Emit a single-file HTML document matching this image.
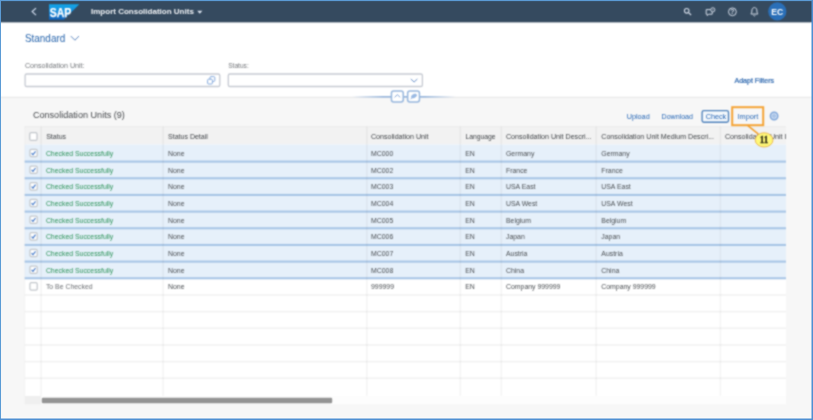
<!DOCTYPE html>
<html lang="en">
<head>
<meta charset="utf-8">
<title>Import Consolidation Units</title>
<style>
html,body{margin:0;padding:0;}
body{width:813px;height:420px;overflow:hidden;background:#f7f7f7;font-family:"Liberation Sans",sans-serif;}
svg{display:block;position:absolute;left:0;top:0;}
text{white-space:pre;}
</style>
</head>
<body>
<svg width="813" height="420" viewBox="0 0 813 420" font-family="Liberation Sans, sans-serif">
<defs><filter id="soft" x="0" y="0" width="100%" height="100%" color-interpolation-filters="sRGB"><feConvolveMatrix order="3" kernelMatrix="1 2 1 2 6 2 1 2 1" divisor="18" edgeMode="duplicate" preserveAlpha="true"/></filter></defs>
<g filter="url(#soft)">
<rect x="0.00" y="0.00" width="813.00" height="420.00" fill="#f7f7f7" />
<rect x="0.00" y="0.00" width="813.00" height="22.60" fill="#354a5f" />
<rect x="0.00" y="22.60" width="813.00" height="74.20" fill="#ffffff" />
<rect x="0.00" y="96.80" width="813.00" height="1.00" fill="#e6e6e6" />
<path d="M36 8.1 L32.2 11.6 L36 15.1" fill="none" stroke="#d0dbed" stroke-width="1.25"/>
<defs><linearGradient id="sg" x1="0" y1="0" x2="0" y2="1"><stop offset="0" stop-color="#10a6ea"/><stop offset="0.45" stop-color="#1a8fdc"/><stop offset="1" stop-color="#1060b8"/></linearGradient></defs>
<polygon points="49,4.3 79.3,4.3 63.8,19.8 49,19.8" fill="url(#sg)"/>
<text x="49.70" y="16.60" font-size="12" fill="#fff" font-weight="bold" stroke="#fff" stroke-width="0.25" textLength="21.6" lengthAdjust="spacingAndGlyphs">SAP</text>
<text x="91.00" y="14.20" font-size="8.03" fill="#f3f5f8" font-weight="bold">Import Consolidation Units</text>
<polygon points="197.2,10.7 202.4,10.7 199.8,13.7" fill="#dbe3ef"/>
<g fill="none" stroke="#d2dae7"><circle cx="686.7" cy="10.8" r="2.3" stroke-width="1.05"/><path d="M688.5 12.6 L691.1 15" stroke-width="1.25"/></g>
<g fill="none" stroke="#d2dae7"><path d="M706.2 9.6 H712.2 V14.2 H708.6 L707.3 15.6 V14.2 H706.2 Z" stroke-width="1"/><circle cx="712.8" cy="9.8" r="2.1" fill="#354a5f" stroke-width="0.9"/><path d="M712.8 8.8 V10 M712.8 10.6 V11" stroke-width="0.7"/></g>
<circle cx="732.4" cy="11.8" r="3.9" fill="none" stroke="#d2dae7" stroke-width="1"/>
<text x="732.40" y="14.30" font-size="6.8" fill="#d2dae7" font-weight="bold" text-anchor="middle">?</text>
<g fill="none" stroke="#d2dae7"><path d="M754.4 7.6 C752.3 7.6 751.9 9.4 751.9 11 C751.9 12.6 751.2 13.4 750.9 14 H757.9 C757.6 13.4 756.9 12.6 756.9 11 C756.9 9.4 756.5 7.6 754.4 7.6 Z" stroke-width="1"/><path d="M753.4 15.4 Q754.4 16.6 755.4 15.4" stroke-width="0.9"/></g>
<circle cx="777.3" cy="11.4" r="9.1" fill="#2a6fb8"/>
<text x="777.30" y="14.50" font-size="8.6" fill="#fff" font-weight="bold" text-anchor="middle">EC</text>
<text x="25.00" y="41.50" font-size="11" fill="#2563ab" textLength="40.2" lengthAdjust="spacingAndGlyphs">Standard</text>
<path d="M70.8 36.1 L74.9 40.2 L79 36.1" fill="none" stroke="#5f88bf" stroke-width="1"/>
<text x="25.00" y="67.60" font-size="7.1" fill="#73767a" >Consolidation Unit:</text>
<text x="228.20" y="67.60" font-size="6.6" fill="#73767a" >Status:</text>
<rect x="25.1" y="74" width="194.7" height="12.5" rx="1.6" fill="#fff" stroke="#c6cad2" stroke-width="1.3"/>
<rect x="228.3" y="74" width="194.1" height="12.5" rx="1.6" fill="#fff" stroke="#c6cad2" stroke-width="1.3"/>
<g fill="#fff" stroke="#7fa5da" stroke-width="0.95"><rect x="210" y="76.6" width="4.8" height="4.8" rx="1"/><rect x="207.6" y="79.2" width="4.8" height="4.8" rx="1"/></g>
<path d="M410.8 79 L414.1 82 L417.4 79" fill="none" stroke="#6f95cc" stroke-width="1"/>
<text x="734.50" y="83.40" font-size="7.05" fill="#2b66ae" stroke="#2b66ae" stroke-width="0.2">Adapt Filters</text>
<defs><linearGradient id="lg" x1="0" y1="0" x2="1" y2="0"><stop offset="0" stop-color="#96b5dc" stop-opacity="0"/><stop offset="0.3" stop-color="#96b5dc"/><stop offset="0.7" stop-color="#96b5dc"/><stop offset="1" stop-color="#96b5dc" stop-opacity="0"/></linearGradient></defs>
<rect x="352.00" y="96.00" width="104.00" height="1.60" fill="url(#lg)" />
<rect x="391.45" y="90.95" width="11.8" height="11" rx="2.2" fill="#fff" stroke="#98b7dd" stroke-width="1.5"/>
<rect x="407.65" y="90.95" width="11.8" height="11" rx="2.2" fill="#fff" stroke="#98b7dd" stroke-width="1.5"/>
<path d="M394.6 97.3 L397.4 94.7 L400.2 97.3" fill="none" stroke="#7ea2d6" stroke-width="0.95"/>
<path d="M410.6 99 L412.6 97.3" stroke="#7ea3d8" stroke-width="0.9"/><ellipse cx="414" cy="96" rx="2.8" ry="1.6" transform="rotate(-28 414 96)" fill="#9bbbe4" stroke="#86a9db" stroke-width="0.5"/>
<text x="32.90" y="118.30" font-size="9.9" fill="#45484c" textLength="92" lengthAdjust="spacingAndGlyphs">Consolidation Units (9)</text>
<text x="626.70" y="118.80" font-size="7.25" fill="#2566b5" >Upload</text>
<text x="661.60" y="118.80" font-size="7.05" fill="#2566b5" >Download</text>
<rect x="702.1" y="110.6" width="26.4" height="11.7" rx="1.8" fill="#f4f8fc" stroke="#4f82bb" stroke-width="1.35"/>
<text x="705.70" y="118.80" font-size="7.25" fill="#2566b5" >Check</text>
<text x="737.60" y="118.80" font-size="7.25" fill="#2566b5" >Import</text>
<circle cx="774.1" cy="116" r="3.7" fill="#cfdff3" stroke="#7fa6d9" stroke-width="1.5"/><circle cx="774.1" cy="116" r="1.3" fill="none" stroke="#7fa6d9" stroke-width="0.8"/>
<rect x="24.70" y="126.50" width="761.30" height="269.40" fill="#ffffff" />
<rect x="24.70" y="126.50" width="761.30" height="18.00" fill="#f2f2f2" />
<rect x="24.70" y="126.20" width="761.30" height="1.00" fill="#ebebeb" />
<rect x="24.70" y="144.50" width="761.30" height="133.34" fill="#e6f0fa" />
<rect x="24.70" y="160.60" width="761.30" height="2.00" fill="#a6c4e5" />
<rect x="24.70" y="177.27" width="761.30" height="2.00" fill="#a6c4e5" />
<rect x="24.70" y="193.93" width="761.30" height="2.00" fill="#a6c4e5" />
<rect x="24.70" y="210.60" width="761.30" height="2.00" fill="#a6c4e5" />
<rect x="24.70" y="227.27" width="761.30" height="2.00" fill="#a6c4e5" />
<rect x="24.70" y="243.94" width="761.30" height="2.00" fill="#a6c4e5" />
<rect x="24.70" y="260.60" width="761.30" height="2.00" fill="#a6c4e5" />
<rect x="24.70" y="277.27" width="761.30" height="2.00" fill="#a6c4e5" />
<rect x="24.70" y="294.15" width="761.30" height="1.60" fill="#f2f2f2" />
<rect x="24.70" y="310.82" width="761.30" height="1.60" fill="#f2f2f2" />
<rect x="24.70" y="327.48" width="761.30" height="1.60" fill="#f2f2f2" />
<rect x="24.70" y="344.15" width="761.30" height="1.60" fill="#f2f2f2" />
<rect x="24.70" y="360.82" width="761.30" height="1.60" fill="#f2f2f2" />
<rect x="24.70" y="377.48" width="761.30" height="1.60" fill="#f2f2f2" />
<rect x="40.30" y="126.50" width="1.60" height="269.40" fill="#000" fill-opacity="0.04"/>
<rect x="162.30" y="126.50" width="1.60" height="269.40" fill="#000" fill-opacity="0.04"/>
<rect x="366.00" y="126.50" width="1.60" height="269.40" fill="#000" fill-opacity="0.04"/>
<rect x="459.50" y="126.50" width="1.60" height="269.40" fill="#000" fill-opacity="0.04"/>
<rect x="500.50" y="126.50" width="1.60" height="269.40" fill="#000" fill-opacity="0.04"/>
<rect x="595.40" y="126.50" width="1.60" height="269.40" fill="#000" fill-opacity="0.04"/>
<rect x="719.60" y="126.50" width="1.60" height="269.40" fill="#000" fill-opacity="0.04"/>
<rect x="24.30" y="126.50" width="1.00" height="269.40" fill="#000" fill-opacity="0.03"/>
<rect x="24.70" y="395.90" width="16.70" height="8.40" fill="#efefef" />
<rect x="41.40" y="395.90" width="744.60" height="8.40" fill="#fdfdfd" />
<rect x="41.8" y="397.8" width="290.4" height="5.5" rx="1.2" fill="#949494"/>
<rect x="29.75" y="132.65" width="7.3" height="7.8" rx="1.5" fill="#fff" stroke="#c3c7cc" stroke-width="1.3"/>
<text x="46.20" y="139.20" font-size="7" fill="#3f4347" >Status</text>
<text x="168.10" y="139.20" font-size="7" fill="#3f4347" >Status Detail</text>
<text x="371.00" y="139.20" font-size="7.1" fill="#3f4347" >Consolidation Unit</text>
<text x="465.40" y="139.20" font-size="6.75" fill="#3f4347" >Language</text>
<text x="506.00" y="139.20" font-size="7.1" fill="#3f4347" >Consolidation Unit Descri...</text>
<text x="601.30" y="139.20" font-size="7.1" fill="#3f4347" >Consolidation Unit Medium Descri...</text>
<text x="725.00" y="139.20" font-size="7.1" fill="#3f4347" >Consolidation Unit I</text>
<rect x="786.00" y="125.50" width="30.00" height="279.40" fill="#f7f7f7" />
<rect x="29.95" y="149.40" width="7.3" height="7.3" rx="1.4" fill="#fff" stroke="#c3c7cc" stroke-width="1.25"/>
<path d="M31.60 153.25 L33.00 154.75 L35.50 151.35" fill="none" stroke="#3f76c8" stroke-width="1.1"/>
<text x="45.90" y="156.00" font-size="6.9" fill="#2a9257" >Checked Successfully</text>
<text x="168.00" y="156.00" font-size="6.9" fill="#4a4e52" >None</text>
<text x="371.00" y="156.00" font-size="6.9" fill="#4a4e52" >MC000</text>
<text x="465.20" y="156.00" font-size="6.9" fill="#4a4e52" >EN</text>
<text x="506.00" y="156.00" font-size="6.9" fill="#4a4e52" >Germany</text>
<text x="601.30" y="156.00" font-size="6.9" fill="#4a4e52" >Germany</text>
<rect x="29.95" y="166.07" width="7.3" height="7.3" rx="1.4" fill="#fff" stroke="#c3c7cc" stroke-width="1.25"/>
<path d="M31.60 169.92 L33.00 171.42 L35.50 168.02" fill="none" stroke="#3f76c8" stroke-width="1.1"/>
<text x="45.90" y="172.67" font-size="6.9" fill="#2a9257" >Checked Successfully</text>
<text x="168.00" y="172.67" font-size="6.9" fill="#4a4e52" >None</text>
<text x="371.00" y="172.67" font-size="6.9" fill="#4a4e52" >MC002</text>
<text x="465.20" y="172.67" font-size="6.9" fill="#4a4e52" >EN</text>
<text x="506.00" y="172.67" font-size="6.9" fill="#4a4e52" >France</text>
<text x="601.30" y="172.67" font-size="6.9" fill="#4a4e52" >France</text>
<rect x="29.95" y="182.73" width="7.3" height="7.3" rx="1.4" fill="#fff" stroke="#c3c7cc" stroke-width="1.25"/>
<path d="M31.60 186.58 L33.00 188.08 L35.50 184.68" fill="none" stroke="#3f76c8" stroke-width="1.1"/>
<text x="45.90" y="189.33" font-size="6.9" fill="#2a9257" >Checked Successfully</text>
<text x="168.00" y="189.33" font-size="6.9" fill="#4a4e52" >None</text>
<text x="371.00" y="189.33" font-size="6.9" fill="#4a4e52" >MC003</text>
<text x="465.20" y="189.33" font-size="6.9" fill="#4a4e52" >EN</text>
<text x="506.00" y="189.33" font-size="6.9" fill="#4a4e52" >USA East</text>
<text x="601.30" y="189.33" font-size="6.9" fill="#4a4e52" >USA East</text>
<rect x="29.95" y="199.40" width="7.3" height="7.3" rx="1.4" fill="#fff" stroke="#c3c7cc" stroke-width="1.25"/>
<path d="M31.60 203.25 L33.00 204.75 L35.50 201.35" fill="none" stroke="#3f76c8" stroke-width="1.1"/>
<text x="45.90" y="206.00" font-size="6.9" fill="#2a9257" >Checked Successfully</text>
<text x="168.00" y="206.00" font-size="6.9" fill="#4a4e52" >None</text>
<text x="371.00" y="206.00" font-size="6.9" fill="#4a4e52" >MC004</text>
<text x="465.20" y="206.00" font-size="6.9" fill="#4a4e52" >EN</text>
<text x="506.00" y="206.00" font-size="6.9" fill="#4a4e52" >USA West</text>
<text x="601.30" y="206.00" font-size="6.9" fill="#4a4e52" >USA West</text>
<rect x="29.95" y="216.07" width="7.3" height="7.3" rx="1.4" fill="#fff" stroke="#c3c7cc" stroke-width="1.25"/>
<path d="M31.60 219.92 L33.00 221.42 L35.50 218.02" fill="none" stroke="#3f76c8" stroke-width="1.1"/>
<text x="45.90" y="222.67" font-size="6.9" fill="#2a9257" >Checked Successfully</text>
<text x="168.00" y="222.67" font-size="6.9" fill="#4a4e52" >None</text>
<text x="371.00" y="222.67" font-size="6.9" fill="#4a4e52" >MC005</text>
<text x="465.20" y="222.67" font-size="6.9" fill="#4a4e52" >EN</text>
<text x="506.00" y="222.67" font-size="6.9" fill="#4a4e52" >Belgium</text>
<text x="601.30" y="222.67" font-size="6.9" fill="#4a4e52" >Belgium</text>
<rect x="29.95" y="232.74" width="7.3" height="7.3" rx="1.4" fill="#fff" stroke="#c3c7cc" stroke-width="1.25"/>
<path d="M31.60 236.59 L33.00 238.09 L35.50 234.69" fill="none" stroke="#3f76c8" stroke-width="1.1"/>
<text x="45.90" y="239.34" font-size="6.9" fill="#2a9257" >Checked Successfully</text>
<text x="168.00" y="239.34" font-size="6.9" fill="#4a4e52" >None</text>
<text x="371.00" y="239.34" font-size="6.9" fill="#4a4e52" >MC006</text>
<text x="465.20" y="239.34" font-size="6.9" fill="#4a4e52" >EN</text>
<text x="506.00" y="239.34" font-size="6.9" fill="#4a4e52" >Japan</text>
<text x="601.30" y="239.34" font-size="6.9" fill="#4a4e52" >Japan</text>
<rect x="29.95" y="249.40" width="7.3" height="7.3" rx="1.4" fill="#fff" stroke="#c3c7cc" stroke-width="1.25"/>
<path d="M31.60 253.25 L33.00 254.75 L35.50 251.35" fill="none" stroke="#3f76c8" stroke-width="1.1"/>
<text x="45.90" y="256.00" font-size="6.9" fill="#2a9257" >Checked Successfully</text>
<text x="168.00" y="256.00" font-size="6.9" fill="#4a4e52" >None</text>
<text x="371.00" y="256.00" font-size="6.9" fill="#4a4e52" >MC007</text>
<text x="465.20" y="256.00" font-size="6.9" fill="#4a4e52" >EN</text>
<text x="506.00" y="256.00" font-size="6.9" fill="#4a4e52" >Austria</text>
<text x="601.30" y="256.00" font-size="6.9" fill="#4a4e52" >Austria</text>
<rect x="29.95" y="266.07" width="7.3" height="7.3" rx="1.4" fill="#fff" stroke="#c3c7cc" stroke-width="1.25"/>
<path d="M31.60 269.92 L33.00 271.42 L35.50 268.02" fill="none" stroke="#3f76c8" stroke-width="1.1"/>
<text x="45.90" y="272.67" font-size="6.9" fill="#2a9257" >Checked Successfully</text>
<text x="168.00" y="272.67" font-size="6.9" fill="#4a4e52" >None</text>
<text x="371.00" y="272.67" font-size="6.9" fill="#4a4e52" >MC008</text>
<text x="465.20" y="272.67" font-size="6.9" fill="#4a4e52" >EN</text>
<text x="506.00" y="272.67" font-size="6.9" fill="#4a4e52" >China</text>
<text x="601.30" y="272.67" font-size="6.9" fill="#4a4e52" >China</text>
<rect x="29.95" y="282.74" width="7.3" height="7.3" rx="1.4" fill="#fff" stroke="#c3c7cc" stroke-width="1.25"/>
<text x="45.90" y="289.34" font-size="6.9" fill="#6d7074" >To Be Checked</text>
<text x="168.00" y="289.34" font-size="6.9" fill="#4a4e52" >None</text>
<text x="371.00" y="289.34" font-size="6.9" fill="#4a4e52" >999999</text>
<text x="465.20" y="289.34" font-size="6.9" fill="#4a4e52" >EN</text>
<text x="506.00" y="289.34" font-size="6.9" fill="#4a4e52" >Company 999999</text>
<text x="601.30" y="289.34" font-size="6.9" fill="#4a4e52" >Company 999999</text>
<rect x="732.2" y="107.2" width="31" height="18" fill="none" stroke="#f5a436" stroke-width="2"/>
<path d="M747.6 125.4 L758.4 134.2" stroke="#f3a02e" stroke-width="1.6" fill="none"/>
<ellipse cx="764.1" cy="139.9" rx="8.9" ry="7.1" fill="#fff878" stroke="#e9b24a" stroke-width="0.9"/>
<text x="764.00" y="143.40" font-size="10.5" fill="#222110" font-family="Liberation Serif, serif" font-weight="bold" text-anchor="middle" textLength="8.6" lengthAdjust="spacingAndGlyphs" stroke="#222110" stroke-width="0.3">11</text>
</g>
<!-- picture frame -->
<rect x="0" y="0" width="813" height="1.1" fill="#5b9bd5"/>
<rect x="0" y="0" width="1" height="420" fill="#5b9bd5"/>
<rect x="810.5" y="22.6" width="1" height="396" fill="#fff" fill-opacity="0.6"/>
<rect x="1" y="417.4" width="810.4" height="1" fill="#fff" fill-opacity="0.6"/>
<rect x="811.5" y="0" width="1.5" height="420" fill="#4f8fd2"/>
<rect x="0" y="418.5" width="813" height="1.5" fill="#4f8fd2"/>
</svg>
</body>
</html>
